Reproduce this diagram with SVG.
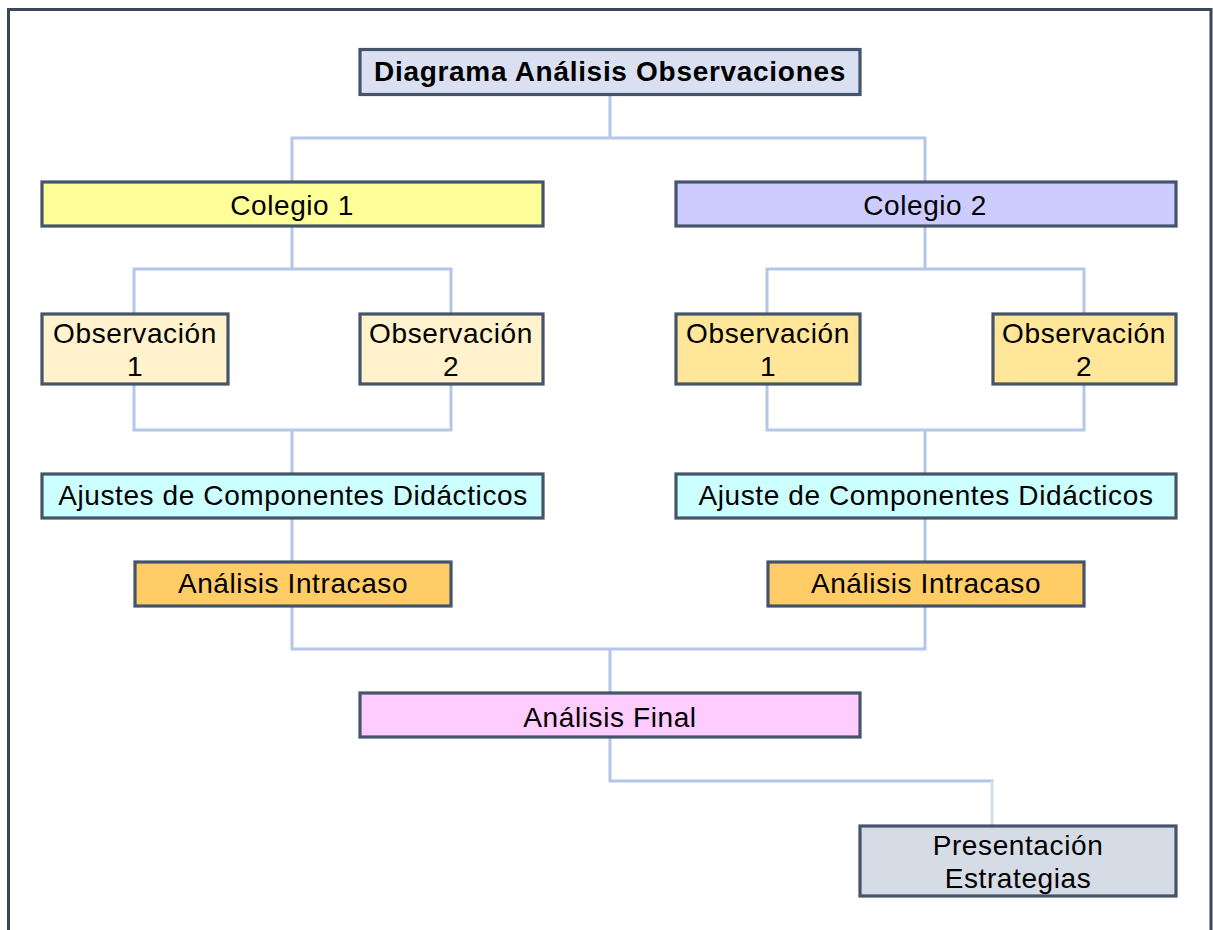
<svg xmlns="http://www.w3.org/2000/svg" width="1213" height="930" viewBox="0 0 1213 930">
<style>
.box{stroke:#44546a;stroke-width:3.2}
.t{font-family:"Liberation Sans",Arial,sans-serif;font-size:28px;letter-spacing:0.6px;fill:#000;text-anchor:middle}
.b{font-weight:bold;letter-spacing:0.7px}
.c{fill:none;stroke:#b4c7e7;stroke-width:3}
</style>
<rect width="1213" height="930" fill="#fff"/>
<path d="M8.5,935 V9.5 H1211 V935" fill="none" stroke="#3a4759" stroke-width="3"/>
<g id="connectors">
<path class="c" d="M610,95 V138 M292,181 V138 H925 V181"/>
<path class="c" d="M292,226 V269 M134,313 V269 H451 V313"/>
<path class="c" d="M925,226 V269 M767,313 V269 H1084 V313"/>
<path class="c" d="M134,385 V430 H451 V385 M292,430 V473"/>
<path class="c" d="M767,385 V430 H1084 V385 M925,430 V473"/>
<path class="c" d="M292,518 V562 M925,518 V562"/>
<path class="c" d="M292,606 V649 H925 V606 M610,649 V692"/>
<path class="c" d="M610,737 V781 H993.5"/>
<path d="M992,781 V825" fill="none" stroke="#d4ddf0" stroke-width="3"/>
</g>
<g id="title"><rect class="box" x="360" y="49.5" width="500" height="45" fill="#dae0f1"/><text class="t b" x="610" y="81">Diagrama Análisis Observaciones</text></g>
<g id="colegio1"><rect class="box" x="42" y="182" width="501" height="44" fill="#ffff99"/><text class="t" x="292" y="215">Colegio 1</text></g>
<g id="colegio2"><rect class="box" x="676" y="182" width="500" height="44" fill="#ccccff"/><text class="t" x="925" y="215">Colegio 2</text></g>
<g id="c1obs1"><rect class="box" x="42" y="314" width="186" height="70" fill="#fff2cc"/><text class="t" x="135" y="343">Observación</text><text class="t" x="135" y="376">1</text></g>
<g id="c1obs2"><rect class="box" x="360" y="314" width="183" height="70" fill="#fff2cc"/><text class="t" x="451" y="343">Observación</text><text class="t" x="451" y="376">2</text></g>
<g id="c2obs1"><rect class="box" x="676" y="314" width="184" height="70" fill="#ffe699"/><text class="t" x="768" y="343">Observación</text><text class="t" x="768" y="376">1</text></g>
<g id="c2obs2"><rect class="box" x="993" y="314" width="183" height="70" fill="#ffe699"/><text class="t" x="1084" y="343">Observación</text><text class="t" x="1084" y="376">2</text></g>
<g id="ajustes1"><rect class="box" x="42" y="474" width="501" height="44" fill="#ccffff"/><text class="t" x="293" y="505">Ajustes de Componentes Didácticos</text></g>
<g id="ajustes2"><rect class="box" x="676" y="474" width="500" height="44" fill="#ccffff"/><text class="t" x="926" y="505">Ajuste de Componentes Didácticos</text></g>
<g id="intra1"><rect class="box" x="135" y="562" width="316" height="44" fill="#ffcc66"/><text class="t" x="293" y="593">Análisis Intracaso</text></g>
<g id="intra2"><rect class="box" x="768" y="562" width="316" height="44" fill="#ffcc66"/><text class="t" x="926" y="593">Análisis Intracaso</text></g>
<g id="final"><rect class="box" x="360" y="693" width="500" height="44" fill="#ffccff"/><text class="t" x="610" y="727">Análisis Final</text></g>
<g id="presentacion"><rect class="box" x="860" y="826" width="316" height="70" fill="#d6dce5"/><text class="t" x="1018" y="855">Presentación</text><text class="t" x="1018" y="888">Estrategias</text></g>
</svg>
